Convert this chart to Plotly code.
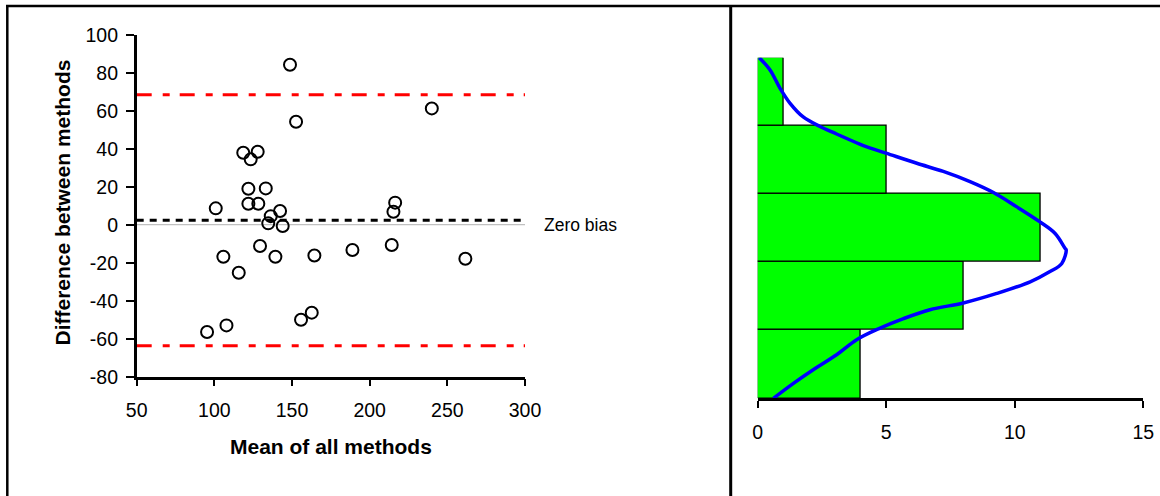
import plotly.graph_objects as go

# ---- Bland-Altman data ----
mean_vals = [148.7, 152.6, 240.0, 100.9, 118.6, 127.9, 123.4, 121.9, 133.1, 121.9,
             128.3, 136.3, 142.3, 134.7, 144.0, 215.3, 216.4, 129.4, 105.8, 139.3,
             164.4, 188.9, 214.2, 115.7, 95.3, 107.8, 155.8, 162.7, 261.6]
diff_vals = [84.2, 54.2, 61.2, 8.6, 37.9, 38.4, 34.4, 18.9, 19.1, 11.0,
             11.0, 4.5, 7.2, 0.7, -0.7, 6.8, 11.6, -11.2, -16.9, -16.9,
             -16.2, -13.3, -10.7, -25.3, -56.5, -53.0, -50.0, -46.3, -17.9]
bias = 2.3
upper_loa = 68.4
lower_loa = -63.7
x_range = [50, 300]
y_range = [-80, 100]
x_ticks = [50, 100, 150, 200, 250, 300]
y_ticks = [-80, -60, -40, -20, 0, 20, 40, 60, 80, 100]
y_tick_labels = ["-80", "-60", "-40", "-20", "0", "20", "40", "60", "80", "100"]

# ---- Histogram of differences (bin 1 = lowest) ----
hist_bins = [1, 2, 3, 4, 5]
hist_counts = [4, 8, 11, 5, 1]
hist_ticks = [0, 5, 10, 15]

# ---- Fitted curve over histogram (count, bin position) ----
curve_count = [0.06, 0.48, 0.87, 1.26, 1.77, 2.42, 3.07, 4.11, 4.99, 6.19, 7.22, 8.26,
               9.17, 10.08, 10.98, 11.57, 11.96, 12.0, 11.83, 11.37, 10.60, 9.30, 8.00,
               6.70, 5.67, 4.76, 3.85, 3.07, 2.16, 1.39, 0.61]
curve_bin = [5.50, 5.32, 5.05, 4.83, 4.63, 4.49, 4.38, 4.21, 4.10, 3.95, 3.83, 3.68,
             3.52, 3.31, 3.09, 2.92, 2.70, 2.68, 2.48, 2.36, 2.21, 2.04, 1.90,
             1.80, 1.67, 1.53, 1.36, 1.14, 0.92, 0.72, 0.50]

W, H = 1160, 496
FONT = "Liberation Sans, Arial, sans-serif"


def px_x(p):
    return p / W


def px_y(p):
    return 1 - p / H


fig = go.Figure()

# zero line (light gray)
fig.add_trace(go.Scatter(x=x_range, y=[0, 0], mode="lines",
                         line=dict(color="#c0c0c0", width=1.2),
                         xaxis="x", yaxis="y", hoverinfo="skip", showlegend=False))
# limits of agreement
for v in (upper_loa, lower_loa):
    fig.add_trace(go.Scatter(x=x_range, y=[v, v], mode="lines",
                             line=dict(color="#ff0000", width=3, dash="15px,11px,7px,10px"),
                             xaxis="x", yaxis="y", hoverinfo="skip", showlegend=False))
# bias line
fig.add_trace(go.Scatter(x=x_range, y=[bias, bias], mode="lines",
                         line=dict(color="#000000", width=3, dash="7px,6px"),
                         xaxis="x", yaxis="y", hoverinfo="skip", showlegend=False))
# points
fig.add_trace(go.Scatter(x=mean_vals, y=diff_vals, mode="markers",
                         marker=dict(symbol="circle-open", size=12, color="black",
                                     line=dict(color="black", width=2)),
                         xaxis="x", yaxis="y", showlegend=False))

# histogram bars
fig.add_trace(go.Bar(x=hist_counts, y=hist_bins, orientation="h", width=1,
                     marker=dict(color="#00ff00", line=dict(color="black", width=1.3)),
                     xaxis="x2", yaxis="y2", showlegend=False))
# curve
fig.add_trace(go.Scatter(x=curve_count, y=curve_bin, mode="lines",
                         line=dict(color="#0000ff", width=3.5, shape="spline", smoothing=1.0),
                         xaxis="x2", yaxis="y2", showlegend=False, cliponaxis=False))

axis_common = dict(showgrid=False, zeroline=False, showline=True, linecolor="black",
                   linewidth=2.5, ticks="outside", tickcolor="black", tickwidth=2,
                   tickfont=dict(family=FONT, size=19.5, color="black"), automargin=False)

fig.update_layout(
    width=W, height=H,
    margin=dict(l=0, r=0, t=0, b=0),
    paper_bgcolor="white", plot_bgcolor="rgba(0,0,0,0)",
    showlegend=False,
    xaxis=dict(domain=[px_x(136.7), px_x(525)], range=x_range, tickvals=x_ticks,
               anchor="y", ticklen=7, ticklabelstandoff=7, **axis_common),
    yaxis=dict(domain=[px_y(376.7), px_y(34.7)], range=y_range, tickvals=y_ticks,
               ticktext=y_tick_labels,
               anchor="x", ticklen=8, ticklabelstandoff=4, **axis_common),
    xaxis2=dict(domain=[px_x(757.7), px_x(1143.3)], range=[0, 15], tickvals=hist_ticks,
                anchor="y2", ticklen=7, ticklabelstandoff=8, **axis_common),
    yaxis2=dict(domain=[px_y(398.3), px_y(57.7)], range=[0.5, 5.5], anchor="x2",
                visible=False, fixedrange=True),
    bargap=0,
)

annotations = [
    dict(text="<b>Mean of all methods</b>", xref="paper", yref="paper",
         x=px_x(330.8), y=px_y(446), xanchor="center", yanchor="middle", showarrow=False,
         font=dict(family=FONT, size=21, color="black")),
    dict(text="<b>Difference between methods</b>", xref="paper", yref="paper",
         x=px_x(61.5), y=px_y(203), xanchor="center", yanchor="middle", showarrow=False,
         textangle=-90, font=dict(family=FONT, size=21, color="black")),
    dict(text="Zero bias", xref="paper", yref="y", x=px_x(541.5), y=0,
         xanchor="left", yanchor="middle", showarrow=False,
         font=dict(family=FONT, size=17.5, color="black")),
]
fig.update_layout(annotations=annotations)

shapes = [
    dict(type="line", xref="paper", yref="paper", x0=px_x(6), x1=1, y0=px_y(6), y1=px_y(6),
         line=dict(color="black", width=2.5)),
    dict(type="line", xref="paper", yref="paper", x0=px_x(7.3), x1=px_x(7.3), y0=px_y(5), y1=0,
         line=dict(color="black", width=2.5)),
    dict(type="line", xref="paper", yref="paper", x0=px_x(730.7), x1=px_x(730.7), y0=px_y(5), y1=0,
         line=dict(color="black", width=3)),
]
fig.update_layout(shapes=shapes)

fig.write_html("out.html")
